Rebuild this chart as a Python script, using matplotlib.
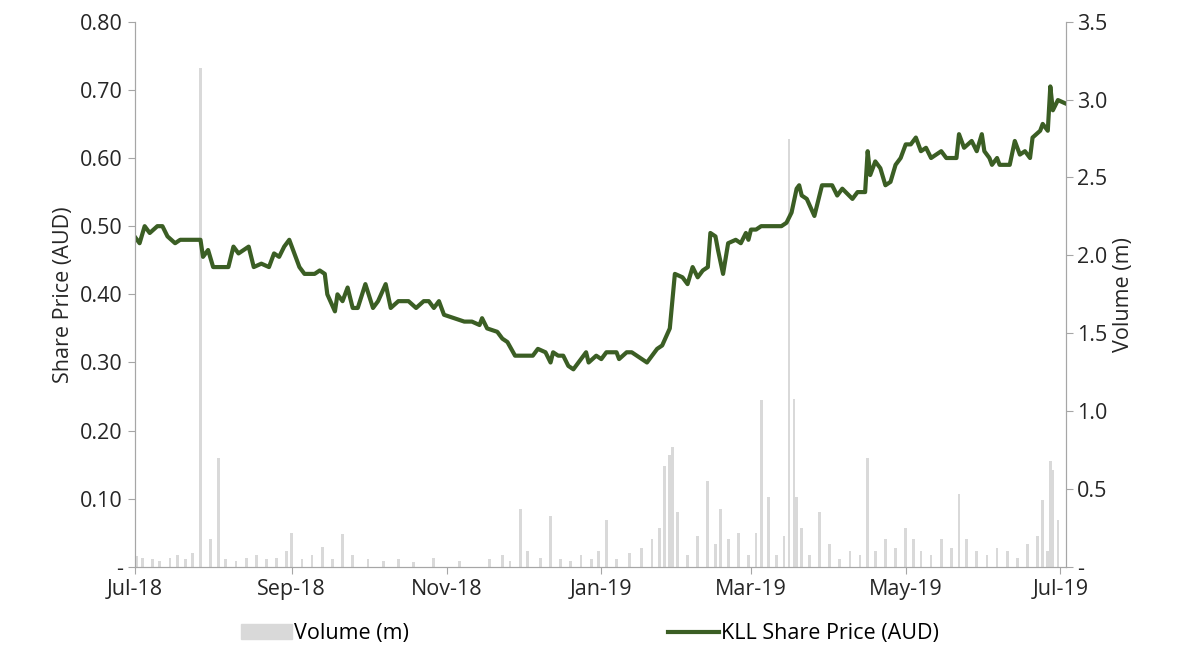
import matplotlib.pyplot as plt
import matplotlib.patches as mpatches
import matplotlib.lines as mlines
import numpy as np

plt.rcParams['font.family'] = ['Open Sans', 'DejaVu Sans']

# days since 1 Jul 2018
price_days = [0,2,4,6,9,11,13,16,18,22,26,27,29,31,37,39,41,45,47,50,53,55,57,59,61,63,65,67,71,73,75,76,79,80,82,84,86,88,91,94,96,99,101,104,108,111,114,116,118,120,122,126,130,133,136,137,139,143,145,147,150,157,159,162,164,165,167,169,171,173,175,178,179,182,184,186,190,191,194,196,198,200,202,204,206,208,211,213,216,218,220,222,224,226,227,229,230,232,234,237,239,241,242,243,245,247,251,255,257,259,261,262,263,265,268,271,275,277,279,283,285,288,289,290,292,294,296,298,300,302,304,306,308,310,312,314,318,320,324,325,327,330,332,334,335,337,338,340,341,345,347,349,351,353,354,357,358,360,361,362,364,367]
price = [0.485,0.475,0.50,0.49,0.50,0.50,0.485,0.475,0.48,0.48,0.48,0.455,0.465,0.44,0.44,0.47,0.46,0.47,0.44,0.445,0.44,0.46,0.455,0.47,0.48,0.46,0.44,0.43,0.43,0.435,0.43,0.40,0.375,0.40,0.39,0.41,0.38,0.38,0.415,0.38,0.39,0.415,0.38,0.39,0.39,0.38,0.39,0.39,0.38,0.39,0.37,0.365,0.36,0.36,0.355,0.365,0.35,0.345,0.335,0.33,0.31,0.31,0.32,0.315,0.30,0.315,0.31,0.31,0.295,0.29,0.30,0.315,0.30,0.31,0.305,0.315,0.315,0.305,0.315,0.315,0.31,0.305,0.30,0.31,0.32,0.325,0.35,0.43,0.425,0.415,0.44,0.425,0.435,0.44,0.49,0.485,0.465,0.43,0.475,0.48,0.475,0.49,0.48,0.495,0.495,0.50,0.50,0.50,0.505,0.52,0.555,0.56,0.545,0.54,0.515,0.56,0.56,0.545,0.555,0.54,0.55,0.55,0.61,0.575,0.595,0.585,0.56,0.565,0.59,0.60,0.62,0.62,0.63,0.61,0.615,0.60,0.61,0.60,0.60,0.635,0.615,0.625,0.61,0.635,0.61,0.60,0.59,0.60,0.59,0.59,0.625,0.605,0.61,0.60,0.63,0.64,0.65,0.64,0.705,0.67,0.685,0.68]

vol_days = [1,3,7,10,14,17,20,23,26,30,33,36,40,44,48,52,56,60,62,66,70,74,78,82,86,92,98,104,110,118,128,140,145,148,152,155,160,164,168,172,176,180,183,186,190,195,200,204,207,209,211,212,214,218,222,226,229,231,234,238,242,245,247,250,253,256,258,260,261,263,266,270,274,278,282,286,289,292,296,300,304,307,310,314,318,322,325,328,332,336,340,344,348,352,356,358,360,361,362,364]
volume = [0.07,0.06,0.05,0.04,0.06,0.08,0.05,0.09,3.20,0.18,0.70,0.05,0.04,0.06,0.08,0.05,0.06,0.10,0.22,0.05,0.08,0.13,0.05,0.21,0.08,0.05,0.04,0.05,0.03,0.06,0.04,0.05,0.08,0.04,0.37,0.10,0.06,0.33,0.05,0.04,0.08,0.05,0.10,0.30,0.05,0.09,0.12,0.18,0.25,0.65,0.72,0.77,0.35,0.08,0.20,0.55,0.15,0.37,0.18,0.22,0.08,0.22,1.07,0.45,0.08,0.20,2.75,1.08,0.45,0.25,0.08,0.35,0.15,0.05,0.10,0.08,0.70,0.10,0.18,0.12,0.25,0.18,0.10,0.08,0.18,0.12,0.47,0.18,0.10,0.08,0.12,0.10,0.06,0.15,0.20,0.43,0.10,0.68,0.62,0.30]

tick_days = [0, 62, 123, 184, 243, 304, 365]
tick_labels = ['Jul-18', 'Sep-18', 'Nov-18', 'Jan-19', 'Mar-19', 'May-19', 'Jul-19']

fig = plt.figure(figsize=(11.8, 6.57), dpi=100)
ax = fig.add_axes([0.114, 0.137, 0.789, 0.83])
ax2 = ax.twinx()

ax2.bar(vol_days, volume, width=1.1, color='#d9d9d9')
ax.plot(price_days, price, color='#3b5e24', linewidth=3)
ax.set_zorder(ax2.get_zorder() + 1)
ax.patch.set_visible(False)

ax.set_xlim(0, 367)
ax.set_ylim(0, 0.8)
ax2.set_ylim(0, 3.5)
ax.set_xticks(tick_days)
ax.set_xticklabels(tick_labels)
ax.set_yticks(np.arange(0, 0.81, 0.1))
ax.set_yticklabels(['-'] + ['%.2f' % v for v in np.arange(0.1, 0.81, 0.1)])
ax2.set_yticks(np.arange(0, 3.51, 0.5))
ax2.set_yticklabels(['-'] + ['%.1f' % v for v in np.arange(0.5, 3.51, 0.5)])

for a in (ax, ax2):
    a.spines['top'].set_visible(False)
    for s in ('left', 'right', 'bottom'):
        a.spines[s].set_color('#a6a6a6')
    a.tick_params(colors='#a6a6a6', labelcolor='#262626', labelsize=15.5, length=5)
ax.set_ylabel('Share Price (AUD)', fontsize=15.5, color='#262626')
ax2.set_ylabel('Volume (m)', fontsize=15.5, color='#262626')

handles = [mpatches.Patch(color='#d9d9d9', label='Volume (m)'),
           mlines.Line2D([], [], color='#3b5e24', linewidth=3, label='KLL Share Price (AUD)')]
fig.legend(handles=handles, loc='lower center', bbox_to_anchor=(0.5, -0.01), ncol=2,
           frameon=False, fontsize=15.5, columnspacing=12.0, handlelength=2.4, handletextpad=0.1)

fig.savefig('out.png', dpi=100)
